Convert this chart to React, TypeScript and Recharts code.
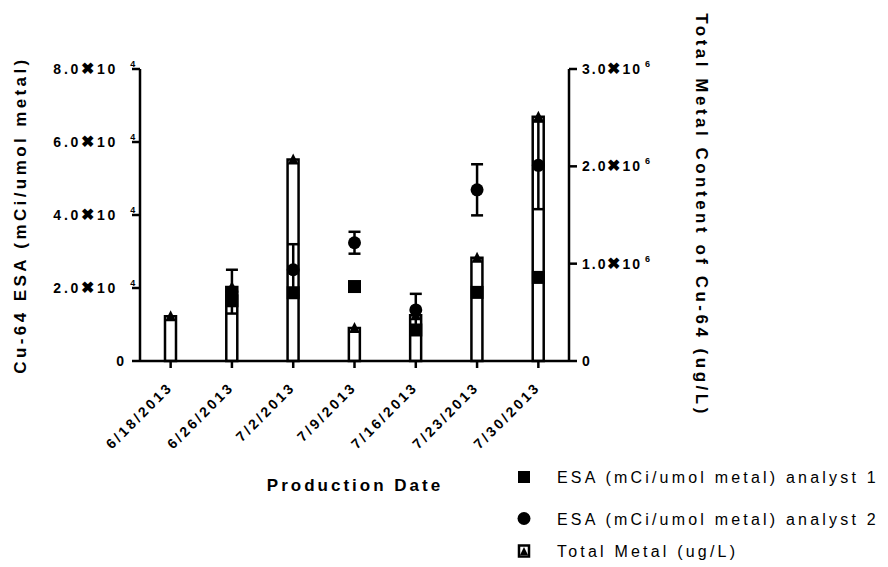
import React from 'react';
import { ComposedChart, Bar, Line, XAxis, YAxis, ErrorBar, Customized } from 'recharts';

// production dates (x categories)
const dates = ['6/18/2013', '6/26/2013', '7/2/2013', '7/9/2013', '7/16/2013', '7/23/2013', '7/30/2013'];
// ESA, mCi/umol metal
const analyst1 = [null, 16500, 18700, 20400, 8500, 18800, 22900];
const analyst2 = [null, 19000, 25000, 32400, 14000, 46900, 53600];
const analyst2Err = [null, 6000, 7000, 3000, 4400, 7000, 12000];
// total metal content, ug/L
const totalMetal = [460000, 760000, 2070000, 340000, 470000, 1060000, 2510000];

const leftTicks = [0, 20000, 40000, 60000, 80000];
const rightTicks = [0, 1000000, 2000000, 3000000];

const data = dates.map((date, i) => ({
  date,
  a1: analyst1[i],
  a2: analyst2[i],
  a2err: analyst2Err[i],
  total: totalMetal[i],
}));

const FONT = '"Liberation Sans", Arial, Helvetica, sans-serif';

const LeftTick = ({ x, y, payload }: any) => {
  const v = payload.value;
  if (v === 0) {
    return (
      <text x={x - 8} y={y} dy={5} textAnchor="end" fontFamily={FONT} fontWeight="bold" fontSize={14}>
        0
      </text>
    );
  }
  return (
    <text x={x + 6} y={y} dy={5} textAnchor="end" fontFamily={FONT} fontWeight="bold" fontSize={14} letterSpacing={2.8}>
      {(v / 1e4).toFixed(1)}
      <tspan fontSize={16}>{'\u2716'}</tspan>10
      <tspan dx={12} dy={-7} fontSize={9}>4</tspan>
    </text>
  );
};

const RightTick = ({ x, y, payload }: any) => {
  const v = payload.value;
  if (v === 0) {
    return (
      <text x={x + 5} y={y} dy={5} textAnchor="start" fontFamily={FONT} fontWeight="bold" fontSize={14}>
        0
      </text>
    );
  }
  return (
    <text x={x + 5} y={y} dy={5} textAnchor="start" fontFamily={FONT} fontWeight="bold" fontSize={14} letterSpacing={2}>
      {(v / 1e6).toFixed(1)}
      <tspan fontSize={16}>{'\u2716'}</tspan>10
      <tspan dx={3} dy={-7} fontSize={9}>6</tspan>
    </text>
  );
};

const DateTick = ({ x, y, payload }: any) => (
  <text
    x={0}
    y={0}
    transform={`translate(${x + 3},${y + 20}) rotate(-45)`}
    textAnchor="end"
    fontFamily={FONT}
    fontWeight="bold"
    fontSize={14}
    letterSpacing={2.8}
  >
    {payload.value}
  </text>
);

const Square = (props: any) => {
  const { cx, cy, value } = props;
  if (value == null || cy == null) return <g key={props.key} />;
  return <rect key={props.key} x={cx - 6.5} y={cy - 6.5} width={13} height={13} fill="#000" />;
};

const Circle = (props: any) => {
  const { cx, cy, value } = props;
  if (value == null || cy == null) return <g key={props.key} />;
  return <circle key={props.key} cx={cx} cy={cy} r={6.5} fill="#000" />;
};

const Triangle = (props: any) => {
  const { cx, cy, value } = props;
  if (value == null || cy == null) return <g key={props.key} />;
  return <path key={props.key} d={`M${cx},${cy - 6} L${cx + 5.5},${cy + 5} L${cx - 5.5},${cy + 5} Z`} fill="#000" />;
};

const legendItems = [
  'ESA (mCi/umol metal) analyst 1',
  'ESA (mCi/umol metal) analyst 2',
  'Total Metal  (ug/L)',
];

const Overlay = () => {
  const rows = [477, 518.5, 551];
  return (
    <g fontFamily={FONT}>
      <text
        transform="translate(20,215) rotate(-90)"
        textAnchor="middle"
        dominantBaseline="central"
        fontWeight="bold"
        fontSize={17}
        letterSpacing={3.4}
      >
        Cu-64 ESA (mCi/umol metal)
      </text>
      <text
        transform="translate(701,215) rotate(90)"
        textAnchor="middle"
        dominantBaseline="central"
        fontWeight="bold"
        fontSize={17}
        letterSpacing={3.5}
      >
        Total Metal Content of Cu-64 (ug/L)
      </text>
      <text x={355} y={491} textAnchor="middle" fontWeight="bold" fontSize={17} letterSpacing={3}>
        Production Date
      </text>
      <rect x={518} y={rows[0] - 6} width={12} height={12} fill="#000" />
      <circle cx={524} cy={rows[1]} r={6.5} fill="#000" />
      <rect x={519} y={rows[2] - 5.5} width={10} height={11} fill="#fff" stroke="#000" strokeWidth={2.5} />
      <path d={`M524,${rows[2] - 4} L528,${rows[2] + 4} L520,${rows[2] + 4} Z`} fill="#000" />
      {legendItems.map((t, i) => (
        <text key={t} x={557} y={rows[i] + 6} fontSize={16} letterSpacing={3.2}>
          {t}
        </text>
      ))}
    </g>
  );
};

export default function App() {
  return (
    <ComposedChart
      width={888}
      height={567}
      data={data}
      margin={{ top: 69, right: 259, bottom: 176, left: 80 }}
      style={{ position: 'absolute', left: 0, top: 0 }}
    >
      <XAxis
        dataKey="date"
        height={30}
        tick={<DateTick />}
        tickSize={7}
        tickMargin={0}
        axisLine={{ stroke: '#000', strokeWidth: 2.5 }}
        tickLine={{ stroke: '#000', strokeWidth: 2.5 }}
        interval={0}
      />
      <YAxis
        yAxisId="left"
        width={60}
        domain={[0, 80000]}
        ticks={leftTicks}
        tick={<LeftTick />}
        tickSize={8}
        tickMargin={0}
        axisLine={{ stroke: '#000', strokeWidth: 2.5 }}
        tickLine={{ stroke: '#000', strokeWidth: 2.5 }}
      />
      <YAxis
        yAxisId="right"
        orientation="right"
        width={60}
        domain={[0, 3000000]}
        ticks={rightTicks}
        tick={<RightTick />}
        tickSize={8}
        tickMargin={0}
        axisLine={{ stroke: '#000', strokeWidth: 2.5 }}
        tickLine={{ stroke: '#000', strokeWidth: 2.5 }}
      />
      <Bar
        yAxisId="right"
        dataKey="total"
        barSize={11}
        fill="#fff"
        stroke="#000"
        strokeWidth={2.5}
        isAnimationActive={false}
      />
      <Line
        yAxisId="right"
        dataKey="total"
        stroke="none"
        dot={Triangle}
        activeDot={false}
        isAnimationActive={false}
      />
      <Line
        yAxisId="left"
        dataKey="a1"
        stroke="none"
        dot={Square}
        activeDot={false}
        isAnimationActive={false}
      />
      <Line
        yAxisId="left"
        dataKey="a2"
        stroke="none"
        dot={Circle}
        activeDot={false}
        isAnimationActive={false}
      >
        <ErrorBar dataKey="a2err" width={6} strokeWidth={2.5} stroke="#000" direction="y" />
      </Line>
      <Customized component={Overlay} />
    </ComposedChart>
  );
}
